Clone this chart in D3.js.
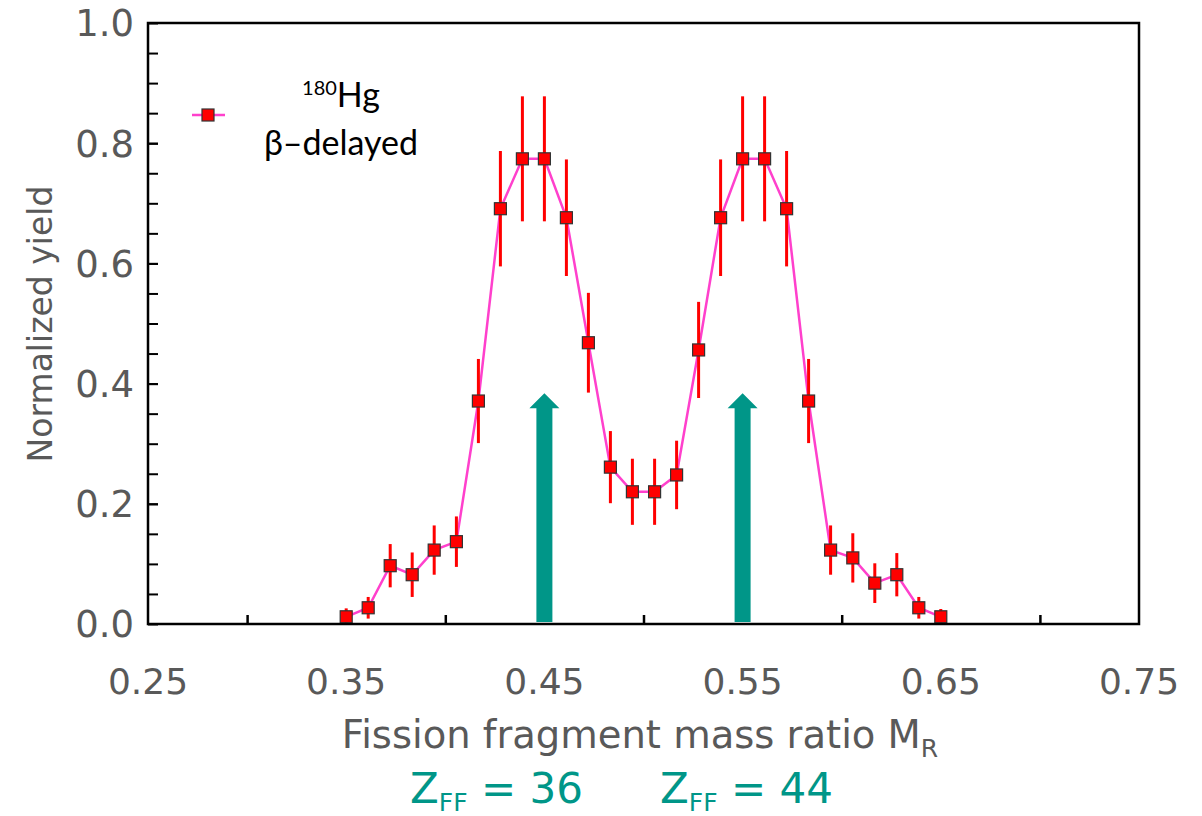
<!DOCTYPE html>
<html>
<head>
<meta charset="utf-8">
<script src="https://cdn.jsdelivr.net/npm/d3@7"></script>
<style>
html,body{margin:0;padding:0;background:#fff;}
svg{display:block;}
</style>
</head>
<body>
<svg id="chart" width="1202" height="816"></svg>
<script>
// ---- data ----
const massRatio = [0.3500,0.3611,0.3722,0.3833,0.3944,0.4056,0.4167,0.4278,0.4389,0.4500,0.4611,0.4722,0.4833,0.4944,0.5056,0.5167,0.5278,0.5389,0.5500,0.5611,0.5722,0.5833,0.5944,0.6056,0.6167,0.6278,0.6389,0.6500];
const yieldVals = [0.012,0.027,0.097,0.082,0.123,0.137,0.371,0.691,0.774,0.774,0.676,0.468,0.261,0.220,0.220,0.248,0.456,0.676,0.774,0.774,0.691,0.371,0.123,0.110,0.068,0.082,0.027,0.012];
const yieldErr  = [0.014,0.018,0.036,0.037,0.041,0.042,0.070,0.096,0.104,0.104,0.097,0.083,0.060,0.055,0.055,0.057,0.080,0.097,0.104,0.104,0.096,0.070,0.041,0.041,0.033,0.036,0.018,0.013];
const arrowX = [0.45, 0.55];
const arrowTop = 0.384;
const xTickLabels = [0.25,0.35,0.45,0.55,0.65,0.75];
const xTickMarks = [0.30,0.40,0.50,0.60,0.70];
const yTickLabels = [0.0,0.2,0.4,0.6,0.8,1.0];
const yTickMarks = [0.05,0.10,0.15,0.20,0.25,0.30,0.35,0.40,0.45,0.50,0.55,0.60,0.65,0.70,0.75,0.80,0.85,0.90,0.95];
const zLabels = ["36", "44"];

// ---- layout ----
const L=148, R=1139, T=23, B=624;
const svg = d3.select("#chart");
const x = d3.scaleLinear().domain([0.25,0.75]).range([L,R]);
const y = d3.scaleLinear().domain([0,1]).range([B,T]);
const gray = "#595959", teal = "#009688";
const tickFont = "DejaVu Sans, Verdana, sans-serif";

// arrows
arrowX.forEach(ax=>{
  const cx = x(ax), shaftW=16, headW=30, headH=15;
  const yTop = y(arrowTop), yBase = y(0)-2;
  svg.append("path")
    .attr("d", `M${cx-shaftW/2},${yBase} L${cx-shaftW/2},${yTop+headH} L${cx-headW/2},${yTop+headH} L${cx},${yTop} L${cx+headW/2},${yTop+headH} L${cx+shaftW/2},${yTop+headH} L${cx+shaftW/2},${yBase} Z`)
    .attr("fill", teal);
});

// line
const data = massRatio.map((m,i)=>({x:m, y:yieldVals[i], e:yieldErr[i]}));
svg.append("path").datum(data)
  .attr("d", d3.line().x(d=>x(d.x)).y(d=>y(d.y)))
  .attr("fill","none").attr("stroke","#ff40cc").attr("stroke-width",2.5);

// error bars
svg.selectAll(".err").data(data).enter().append("line")
  .attr("x1",d=>x(d.x)).attr("x2",d=>x(d.x))
  .attr("y1",d=>y(Math.min(1,d.y+d.e))).attr("y2",d=>y(Math.max(0,d.y-d.e)))
  .attr("stroke","#ff0000").attr("stroke-width",3);

// markers
const ms=12;
svg.selectAll(".mk").data(data).enter().append("rect")
  .attr("x",d=>x(d.x)-ms/2).attr("y",d=>y(d.y)-ms/2)
  .attr("width",ms).attr("height",ms)
  .attr("fill","#ff0000").attr("stroke","#333").attr("stroke-width",1.2);

// frame
svg.append("rect").attr("x",L).attr("y",T).attr("width",R-L).attr("height",B-T)
  .attr("fill","none").attr("stroke","#000").attr("stroke-width",2.5);

// y ticks
const yAxis = d3.axisLeft(y).tickValues(yTickMarks.concat(yTickLabels)).tickSize(-10).tickFormat("");
svg.append("g").attr("transform",`translate(${L},0)`).call(yAxis)
  .call(g=>g.select(".domain").remove())
  .call(g=>g.selectAll("line").attr("stroke","#000").attr("stroke-width",2));
svg.append("g").selectAll("text").data(yTickLabels).enter().append("text")
  .attr("x",L-14).attr("y",d=>y(d)).attr("dy","0.36em")
  .attr("text-anchor","end").attr("fill",gray)
  .style("font-family",tickFont).style("font-size","37px")
  .text(d=>d3.format(".1f")(d));

// x ticks
const xAxis = d3.axisBottom(x).tickValues(xTickMarks).tickSize(-9).tickFormat("");
svg.append("g").attr("transform",`translate(0,${B})`).call(xAxis)
  .call(g=>g.select(".domain").remove())
  .call(g=>g.selectAll("line").attr("stroke","#000").attr("stroke-width",2.5));
svg.append("g").selectAll("text").data(xTickLabels).enter().append("text")
  .attr("x",d=>x(d)).attr("y",694)
  .attr("text-anchor","middle").attr("fill",gray)
  .style("font-family",tickFont).style("font-size","36px")
  .text(d=>d3.format(".2f")(d));

// axis titles
const xt = svg.append("text").attr("x",640).attr("y",748).attr("text-anchor","middle")
  .attr("fill",gray).style("font-family",tickFont).style("font-size","38.5px");
xt.append("tspan").text("Fission fragment mass ratio M");
xt.append("tspan").attr("dy",9).style("font-size","25px").text("R");

svg.append("text").attr("transform",`translate(52,324) rotate(-90)`)
  .attr("text-anchor","middle").attr("fill",gray)
  .style("font-family",tickFont).style("font-size","33px")
  .text("Normalized yield");

// Z labels
const zStart = [410, 660];
zLabels.forEach((z,i)=>{
  const t = svg.append("text").attr("x",zStart[i]).attr("y",803).attr("text-anchor","start")
    .attr("fill",teal).style("font-family",tickFont).style("font-size","42px");
  t.append("tspan").text("Z");
  t.append("tspan").attr("dy",8).style("font-size","25px").text("FF");
  t.append("tspan").attr("dy",-8).text(" = "+z);
});

// legend
svg.append("line").attr("x1",192).attr("x2",225).attr("y1",115).attr("y2",115)
  .attr("stroke","#ff40cc").attr("stroke-width",2.5);
svg.append("rect").attr("x",208-ms/2).attr("y",115-ms/2).attr("width",ms).attr("height",ms)
  .attr("fill","#ff0000").attr("stroke","#333").attr("stroke-width",1.2);
const lg1 = svg.append("text").attr("x",341).attr("y",107).attr("text-anchor","middle")
  .style("font-family","Lato, 'Open Sans', sans-serif").style("font-size","34px").attr("fill","#000");
lg1.append("tspan").attr("dy",-12).style("font-size","20px").text("180");
lg1.append("tspan").attr("dy",12).text("Hg");
svg.append("text").attr("x",341).attr("y",155).attr("text-anchor","middle")
  .style("font-family","Lato, 'Open Sans', sans-serif").style("font-size","34px").attr("fill","#000")
  .text("β–delayed");
</script>
</body>
</html>
